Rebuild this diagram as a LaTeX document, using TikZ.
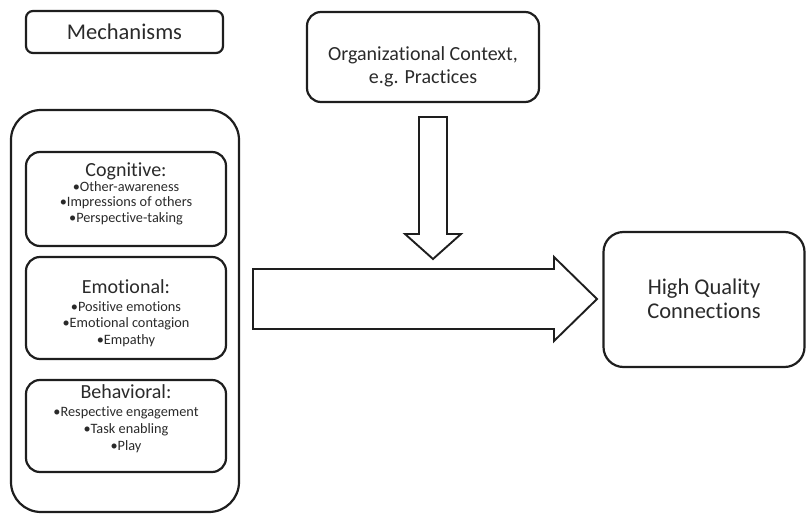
\documentclass[tikz,border=0pt]{standalone}
\usepackage{fontspec}
\setmainfont{Carlito}[Ligatures={NoCommon,NoRare}]
\usetikzlibrary{calc}
\definecolor{ink}{HTML}{1E1E1E}
\definecolor{txt}{HTML}{2A2A2A}
\begin{document}
\begin{tikzpicture}[x=1pt,y=-1pt,
  box/.style={draw=ink,line width=2.2pt,rectangle,inner sep=0pt},
  blk/.style={draw=ink,line width=1.9pt,fill=white,line join=miter},
  ttl/.style={anchor=base,text=txt,inner sep=0pt,font=\fontsize{20}{24}\selectfont},
  bul/.style={anchor=base,text=txt,inner sep=0pt,font=\fontsize{14.3}{16}\selectfont},
  big/.style={anchor=base,text=txt,inner sep=0pt,font=\fontsize{22.5}{25}\selectfont}]
\useasboundingbox (0,0) rectangle (806,514);
% boxes
\node[box,rounded corners=7pt,minimum width=197pt,minimum height=42pt] (mech) at (124.5,32) {};
\node[box,rounded corners=30pt,minimum width=228pt,minimum height=402pt] (outer) at (125,311) {};
\node[box,rounded corners=14pt,minimum width=200pt,minimum height=94pt] (cog) at (126,199) {};
\node[box,rounded corners=14pt,minimum width=200pt,minimum height=102pt] (emo) at (126,308) {};
\node[box,rounded corners=14pt,minimum width=200pt,minimum height=92pt] (beh) at (126,426) {};
\node[box,rounded corners=14pt,minimum width=232pt,minimum height=90pt] (org) at (423,57) {};
\node[box,rounded corners=20pt,minimum width=201pt,minimum height=135pt] (hqc) at (704,299.5) {};
% texts
\node[big] (mecht) at (124.5,39.5) {Mechanisms};
\node[ttl] (cogt) at (126,176.5) {Cognitive:};
\node[bul] (cog1) at (126,191) {•Other-awareness};
\node[bul] (cog2) at (126,206.5) {•Impressions of others};
\node[bul] (cog3) at (126,222) {•Perspective-taking};
\node[ttl] (emot) at (126,293) {Emotional:};
\node[bul] (emo1) at (126,311) {•Positive emotions};
\node[bul] (emo2) at (126,327.5) {•Emotional contagion};
\node[bul] (emo3) at (126,344.5) {•Empathy};
\node[ttl] (beht) at (126,398.5) {Behavioral:};
\node[bul] (beh1) at (126,416.5) {•Respective engagement};
\node[bul] (beh2) at (126,433.5) {•Task enabling};
\node[bul] (beh3) at (126,450) {•Play};
\node[ttl] (org1) at (423,60.5) {Organizational Context,};
\node[ttl] (org2) at (423,83) {e.g. Practices};
\node[big] (hqc1) at (704,294) {High Quality};
\node[big] (hqc2) at (704,318) {Connections};
% block arrows
\coordinate (dtop) at (433,117);
\coordinate (dtip) at (433,259);
\draw[blk] ($(dtop)+(-14,0)$) -- ($(dtop)+(14,0)$) -- (447,234) -- (461,234) -- (dtip) -- (405,234) -- (419,234) -- cycle;
\coordinate (rtail) at (253,299);
\coordinate (rtip) at (597,299);
\draw[blk] (253,269) -- (554,269) -- (554,257) -- (rtip) -- (554,341) -- (554,329) -- (253,329) -- cycle;
\end{tikzpicture}
\end{document}
